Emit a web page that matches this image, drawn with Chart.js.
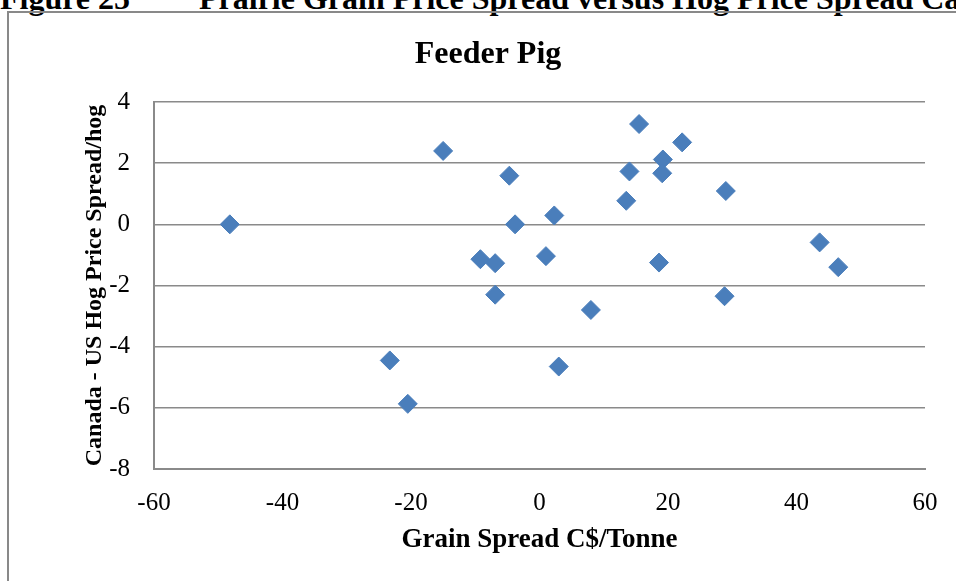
<!DOCTYPE html>
<html>
<head>
<meta charset="utf-8">
<script src="https://cdn.jsdelivr.net/npm/chart.js@4"></script>
<style>
    html, body { margin: 0; padding: 0; background: #fff; overflow: hidden; width: 956px; height: 581px; }
    .caption { position: absolute; top: -18px; font: bold 32px "Liberation Serif", "Times New Roman", serif; line-height: 32px; white-space: nowrap; color: #000; }
    .chart-box { position: absolute; left: 7px; top: 11px; width: 958px; height: 580px; border-left: 2px solid #898989; border-top: 2px solid #898989; }
</style>
</head>
<body>
<div class="caption" style="left: 0;">Figure 25</div>
<div class="caption" style="left: 199px;">Prairie Grain Price Spread versus Hog Price Spread Canada</div>
<div class="chart-box"><canvas id="scatter-chart" width="958" height="580"></canvas></div>
<script>
// Feeder pig: grain spread (C$/tonne) vs Canada - US hog price spread
const grainSpread = [-48.2, -15.0, -4.7, -3.8, -9.2, -6.9, -6.9, 1.0, 2.3, -23.3, -20.5, 3.0,
    8.0, 13.5, 14.0, 15.5, 19.2, 19.1, 22.2, 18.6, 29.0, 28.8, 43.6, 46.5];
const hogSpread = [0.0, 2.4, 1.59, 0.0, -1.14, -1.27, -2.3, -1.04, 0.29, -4.45, -5.87, -4.65,
    -2.8, 0.77, 1.73, 3.28, 2.12, 1.67, 2.68, -1.25, 1.09, -2.35, -0.59, -1.4];
const xTicks = [-60, -40, -20, 0, 20, 40, 60];
const yTicks = [-8, -6, -4, -2, 0, 2, 4];

document.addEventListener('DOMContentLoaded', () => {
    renderChart();
});

function renderChart() {
    const points = grainSpread.map((x, i) => ({ x: x, y: hogSpread[i] }));
    const gridGray = '#8a8a8a';
    const serif = '"Liberation Serif", "Times New Roman", serif';

    const ctx = document.getElementById('scatter-chart').getContext('2d');
    new Chart(ctx, {
        type: 'scatter',
        data: {
            datasets: [{
                label: 'Feeder Pig',
                data: points,
                pointStyle: 'rectRot',
                pointRadius: 9.5,
                pointHoverRadius: 9.5,
                backgroundColor: '#4a7ebb',
                borderColor: '#4a7ebb',
                borderWidth: 1
            }]
        },
        options: {
            responsive: false,
            animation: false,
            layout: {
                padding: 0
            },
            plugins: {
                legend: { display: false },
                tooltip: { enabled: false },
                title: {
                    display: true,
                    text: 'Feeder Pig',
                    color: '#000',
                    font: { family: serif, size: 32, weight: 'bold' },
                    padding: { top: 23, bottom: 27.6 }
                }
            },
            scales: {
                x: {
                    type: 'linear',
                    min: xTicks[0],
                    max: xTicks[xTicks.length - 1],
                    afterBuildTicks: scale => { scale.ticks = xTicks.map(v => ({ value: v })); },
                    afterFit: scale => { scale.height = 124; },
                    grid: { display: false, drawTicks: false },
                    border: { display: true, color: gridGray, width: 2 },
                    ticks: {
                        color: '#000',
                        padding: 19,
                        maxRotation: 0,
                        font: { family: serif, size: 25 }
                    },
                    title: {
                        display: true,
                        text: 'Grain Spread C$/Tonne',
                        color: '#000',
                        font: { family: serif, size: 27, weight: 'bold' },
                        padding: { top: 0, bottom: 37 }
                    }
                },
                y: {
                    type: 'linear',
                    min: yTicks[0],
                    max: yTicks[yTicks.length - 1],
                    afterBuildTicks: scale => { scale.ticks = yTicks.map(v => ({ value: v })); },
                    afterFit: scale => { scale.width = 145; },
                    grid: { color: gridGray, lineWidth: 1.5, drawTicks: false },
                    border: { display: true, color: gridGray, width: 2 },
                    ticks: {
                        color: '#000',
                        padding: 24,
                        font: { family: serif, size: 25 }
                    },
                    title: {
                        display: true,
                        text: 'Canada - US Hog Price Spread/hog',
                        color: '#000',
                        font: { family: serif, size: 24, weight: 'bold' },
                        padding: { top: 71, bottom: 0 }
                    }
                },
                // empty right-hand box, keeps the plot clear of the right edge
                spacer: {
                    type: 'linear',
                    position: 'right',
                    afterFit: scale => { scale.width = 42; },
                    grid: { display: false, drawTicks: false },
                    border: { display: false },
                    ticks: { display: false }
                }
            }
        }
    });
}
</script>
</body>
</html>
